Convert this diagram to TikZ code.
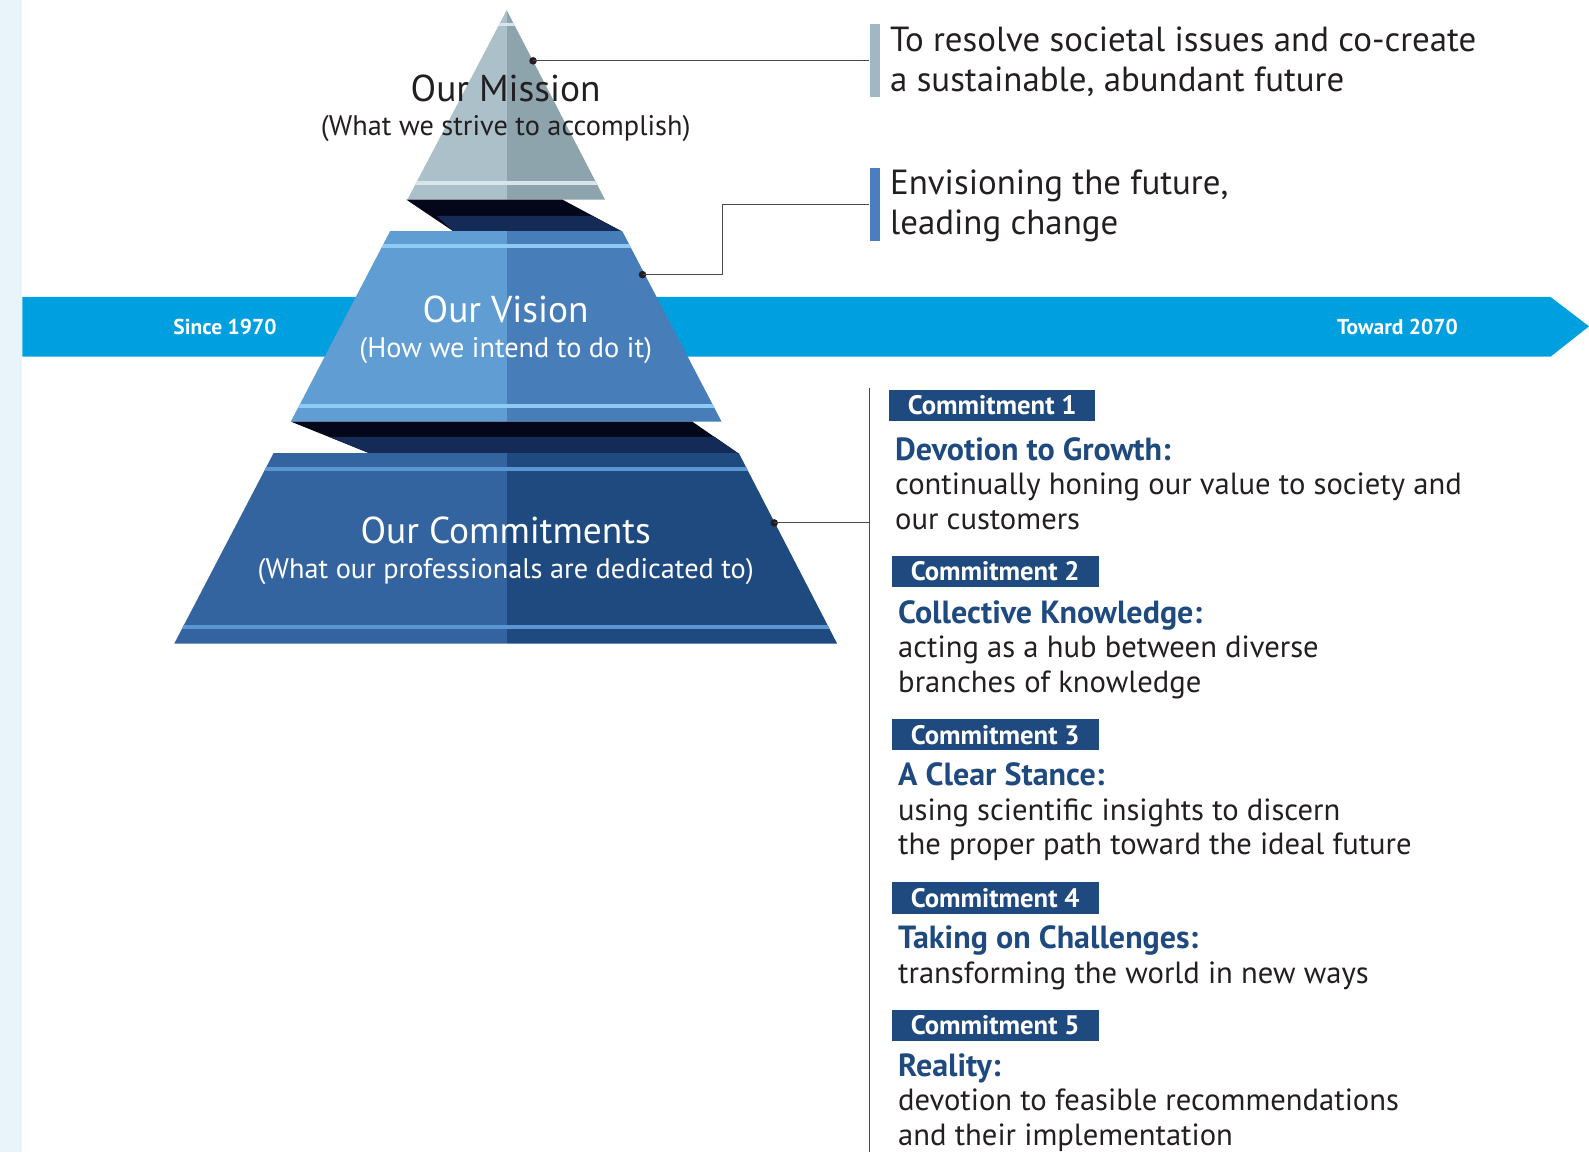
\documentclass[tikz,border=0pt]{standalone}
\usepackage{fontspec}
\setmainfont{PT Sans}
\definecolor{ink}{HTML}{231F20}
\definecolor{leadgrey}{HTML}{4A4A4A}
\definecolor{sidestrip}{HTML}{E8F3FA}
\definecolor{bandblue}{HTML}{00A0E0}
\definecolor{misleft}{HTML}{ABC0C8}
\definecolor{misright}{HTML}{8EA4AD}
\definecolor{misstripe}{HTML}{D8E6EC}
\definecolor{visleft}{HTML}{5F9DD2}
\definecolor{visright}{HTML}{477EB9}
\definecolor{visstripe}{HTML}{8DCBF2}
\definecolor{comleft}{HTML}{3464A0}
\definecolor{comright}{HTML}{1F4A7F}
\definecolor{comstripe}{HTML}{5B95D2}
\definecolor{shadeblack}{HTML}{030719}
\definecolor{shadenavy}{HTML}{142B57}
\definecolor{boxnavy}{HTML}{1F4A80}
\definecolor{misbar}{HTML}{A0B8C4}
\definecolor{visbar}{HTML}{4A7EBF}
\newcommand{\ctitle}[1]{{\bfseries\color{boxnavy}\fontsize{18}{19.4}\selectfont#1}}

\begin{document}
\begin{tikzpicture}[x=0.02cm, y=-0.02cm,
        bigname/.style={font=\fontsize{21}{24}\selectfont, inner sep=0pt},
        subname/.style={font=\fontsize{15.9}{18}\selectfont, inner sep=0pt},
        bandlabel/.style={font=\bfseries\fontsize{12.1}{14}\selectfont, text=white, inner sep=0pt},
        bar/.style={minimum width=0.2cm, minimum height=1.44cm, inner sep=0pt},
        bigtext/.style={font=\fontsize{19.6}{22.2}\selectfont, text=ink, align=left, anchor=west, inner sep=0pt},
        body/.style={font=\fontsize{17.2}{19.4}\selectfont, text=ink, align=left, anchor=west, inner sep=0pt},
        cbox/.style={fill=boxnavy, text=white, minimum width=4.08cm, minimum height=0.62cm, inner sep=0pt, font=\bfseries\fontsize{15}{16}\selectfont},
        lead/.style={line width=0.6pt, draw=leadgrey},
        dot/.style={circle, fill=ink, inner sep=0pt, minimum size=0.15cm}
    ]
        \useasboundingbox (0,0) rectangle (1568,1137);

        % side strip and time band
        \fill[sidestrip] (0,0) rectangle (22,1137);
        \fill[bandblue] (22,293) -- (1530,293) -- (1568,322) -- (1530,352) -- (22,352) -- cycle;
        \node[bandlabel] (since) at (222,323) {Since 1970};
        \node[bandlabel] (toward) at (1379,323) {Toward 2070};

        % Mission
        \begin{scope}
            \clip (500,10) -- (597,197) -- (402,197) -- cycle;
            \fill[misleft] (400,0) rectangle (500,200);
            \fill[misright] (500,0) rectangle (600,200);
            \fill[misstripe] (400,23) rectangle (600,26);
            \fill[misstripe] (400,179) rectangle (600,183);
        \end{scope}

        % shade between mission and vision
        \fill[shadeblack] (401,197) -- (555,197) -- (613,228) -- (447,228) -- cycle;
        \fill[shadenavy] (431,213) -- (584,213) -- (613,228) -- (447,228) -- cycle;

        % Vision
        \begin{scope}
            \clip (385,228) -- (614,228) -- (712,416) -- (287,416) -- cycle;
            \fill[visleft] (280,220) rectangle (500,420);
            \fill[visright] (500,220) rectangle (720,420);
            \fill[visstripe] (280,241) rectangle (720,245);
            \fill[visstripe] (280,399) rectangle (720,403);
        \end{scope}

        % shade between vision and commitments
        \fill[shadeblack] (287,416) -- (683,416) -- (728,447) -- (364,447) -- cycle;
        \fill[shadenavy] (325,431) -- (705,431) -- (728,447) -- (364,447) -- cycle;

        % Commitments
        \begin{scope}
            \clip (270,447) -- (729,447) -- (826,635) -- (172,635) -- cycle;
            \fill[comleft] (170,440) rectangle (500,640);
            \fill[comright] (500,440) rectangle (830,640);
            \fill[comstripe] (170,461) rectangle (830,465);
            \fill[comstripe] (170,617) rectangle (830,621);
        \end{scope}

        % pyramid labels
        \node[bigname, text=ink] (mission) at (499,87) {Our Mission};
        \node[subname, text=ink] (missionsub) at (499,127) {(What we strive to accomplish)};
        \node[bigname, text=white] (vision) at (499,305) {Our Vision};
        \node[subname, text=white] (visionsub) at (499,346) {(How we intend to do it)};
        \node[bigname, text=white] (commit) at (499,523) {Our Commitments};
        \node[subname, text=white] (commitsub) at (499,564) {(What our professionals are dedicated to)};

        % mission statement
        \node[bar, fill=misbar] (mbar) at (863,60) {};
        \node[bigtext] (mtext) at (878,61) {To resolve societal issues and co-create\\a sustainable, abundant future};
        \node[dot] (mdot) at (526,60) {};
        \draw[lead] (mdot.center) -- (mbar.west);

        % vision statement
        \node[bar, fill=visbar] (vbar) at (863,202) {};
        \node[bigtext] (vtext) at (878,203) {Envisioning the future,\\leading change};
        \node[dot] (vdot) at (634,271) {};
        \draw[lead] (vdot.center) -- (713,271) |- (vbar.west);

        % commitments
        \coordinate (ctop) at (858,383);
        \coordinate (cbot) at (858,1137);
        \coordinate (cjoin) at (858,516);
        \draw[lead] (ctop) -- (cbot);
        \node[dot] (cdot) at (764,516) {};
        \draw[lead] (cdot.center) -- (cjoin);

        \node[cbox] (c1box) at (979,400) {Commitment 1};
        \node[body] (c1text) at (883,477) {\ctitle{Devotion to Growth:}\\continually honing our value to society and\\our customers};

        \node[cbox] (c2box) at (982,564) {Commitment 2};
        \node[body] (c2text) at (886,641) {\ctitle{Collective Knowledge:}\\acting as a hub between diverse\\branches of knowledge};

        \node[cbox] (c3box) at (982,725) {Commitment 3};
        \node[body] (c3text) at (886,801) {\ctitle{A Clear Stance:}\\using scientific insights to discern\\the proper path toward the ideal future};

        \node[cbox] (c4box) at (982,886) {Commitment 4};
        \node[body] (c4text) at (886,945) {\ctitle{Taking on Challenges:}\\transforming the world in new ways};

        \node[cbox] (c5box) at (982,1012) {Commitment 5};
        \node[body] (c5text) at (886,1088) {\ctitle{Reality:}\\devotion to feasible recommendations\\and their implementation};
    \end{tikzpicture}
\end{document}
